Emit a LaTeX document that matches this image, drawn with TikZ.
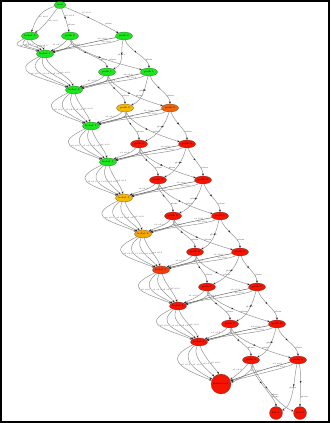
\documentclass[tikz,border=0pt]{standalone}
\usetikzlibrary{arrows.meta,shapes.geometric,decorations.markings}
\definecolor{gv}{RGB}{30,230,30}
\definecolor{gold}{RGB}{245,185,0}
\definecolor{goldb}{RGB}{245,165,0}
\definecolor{ora}{RGB}{240,100,10}
\definecolor{orr}{RGB}{240,60,10}
\definecolor{rd}{RGB}{245,20,0}
\begin{document}
\begin{tikzpicture}[x=1pt,y=-1pt,
  nd/.style={ellipse,draw=black!70,line width=0.2pt,minimum width=17pt,minimum height=8pt,inner sep=0pt,font=\fontsize{2.4}{3}\selectfont},
  cn/.style={circle,draw=black!70,line width=0.2pt,inner sep=0pt,font=\fontsize{2.4}{3}\selectfont},
  e/.style={draw=black!42,line width=0.5pt,-{Stealth[length=2.4pt,width=2pt,black!85]}},
  me/.style={e,decoration={markings,mark=at position 0.45 with {\arrow{Stealth[length=2.2pt,width=1.8pt,black!85]}}},postaction=decorate},
  lb/.style={font=\fontsize{2.1}{2.5}\selectfont,inner sep=0.6pt,text=black!80},
]
\useasboundingbox (0,0) rectangle (330,423);
\draw[line width=2pt] (1,1) rectangle (329,422);

% nodes
\node[nd,fill=gv,minimum width=12pt,minimum height=7pt] (root) at (60,5) {root};
\node[nd,fill=gv] (b0) at (30,36) {bobot 0};
\node[nd,fill=gv] (pA0) at (70,36) {path 0};
\node[nd,fill=gv] (pB0) at (124,36) {path 0};
\node[nd,fill=gv] (b1) at (45,54) {bobot 1};
\node[nd,fill=gv] (pA1) at (107,72) {path 1};
\node[nd,fill=gv] (pB1) at (149,72) {path 1};
\node[nd,fill=gv] (b2) at (74,90) {bobot 2};
\node[nd,fill=gold] (pA2) at (125,108) {path 2};
\node[nd,fill=ora] (pB2) at (170,108) {path 2};
\node[nd,fill=gv] (b3) at (91,126) {bobot 3};
\node[nd,fill=rd] (pA3) at (139,144) {path 3};
\node[nd,fill=rd] (pB3) at (187,144) {path 3};
\node[nd,fill=gv] (b4) at (108,162) {bobot 4};
\node[nd,fill=rd] (pA4) at (158,180) {path 4};
\node[nd,fill=rd] (pB4) at (203,180) {path 4};
\node[nd,fill=gold] (b5) at (124,198) {bobot 5};
\node[nd,fill=rd] (pA5) at (173,216) {path 5};
\node[nd,fill=rd] (pB5) at (220,216) {path 5};
\node[nd,fill=goldb] (b6) at (143,234) {bobot 6};
\node[nd,fill=rd] (pA6) at (195,252) {path 6};
\node[nd,fill=rd] (pB6) at (240,252) {path 6};
\node[nd,fill=orr] (b7) at (161,270) {bobot 7};
\node[nd,fill=rd] (pA7) at (207,287) {path 7};
\node[nd,fill=rd] (pB7) at (257,287) {path 7};
\node[nd,fill=rd] (b8) at (178,306) {bobot 8};
\node[nd,fill=rd] (pA8) at (230,324) {path 8};
\node[nd,fill=rd] (pB8) at (277,324) {path 8};
\node[nd,fill=rd] (b9) at (199,342) {bobot 9};
\node[nd,fill=rd] (pA9) at (251,360) {path 9};
\node[nd,fill=rd] (pB9) at (298,360) {path 9};
\node[cn,fill=rd,minimum size=20pt] (b10) at (221,384) {bobot end};
\node[cn,fill=rd,minimum size=13pt] (pA10) at (276,413) {bot 1};
\node[cn,fill=rd,minimum size=13pt] (pB10) at (300,413) {bot 2};

% root edges
\draw[e] (root) .. controls +(-22,6) and +(5,-14) .. node[lb,pos=0.5,right]{a1 v0.0} (b0);
\draw[e] (root) .. controls +(-8,10) and +(15,-10) .. node[lb,pos=0.5,right]{a2 v0.0} (b0);
\draw[me] (root) to[bend left=5] node[lb,pos=0.3,right]{a0 v0.0} node[lb,pos=0.72,right]{plans} (pA0);
\draw[me] (root) to[bend left=3] node[lb,pos=0.28,above right]{a1 v0.0} node[lb,pos=0.75,above right]{plans} (pB0);

% bobot chain
\foreach \k in {0,...,9}{
  \pgfmathtruncatemacro\n{\k+1}
  \pgfmathsetmacro\f{\k==0 ? 0.6 : 1}
  \pgfmathsetmacro\pa{\k==0 ? 0.35 : 0.5}
  \pgfmathsetmacro\pb{\k==0 ? 0.6 : 0.5}
  \draw[e] (b\k) .. controls +({-38*\f},{18*\f}) and +({-36*\f},{-14*\f}) .. node[lb,pos=0.5,right]{a0 v0.0} (b\n);
  \draw[e] (b\k) .. controls +({-22*\f},{18*\f}) and +({-22*\f},{-12*\f}) .. node[lb,pos=\pa,right]{a1 v0.0} (b\n);
  \draw[e] (b\k) .. controls +({-8*\f},{16*\f}) and +({-11*\f},{-12*\f}) .. node[lb,pos=\pb,right]{a2 v0.0} (b\n);
  \draw[e] (b\k) .. controls +({4*\f},{14*\f}) and +({-3*\f},{-12*\f}) .. node[lb,pos=0.5,right]{a3 v0.0} (b\n);
}

% path -> bobot
\foreach \k in {0,...,9}{
  \pgfmathtruncatemacro\n{\k+1}
  \draw[e] (pA\k) .. controls +(-8,10) and +(12,-6) .. node[lb,pos=0.3,left]{a1 v0.0} (b\n);
  \draw[e] (pA\k) .. controls +(4,10) and +(16,-3) .. node[lb,pos=0.3,right]{a2 v0.0} (b\n);
  \draw[e] (pB\k) .. controls +(-10,8) and +(20,-6) .. node[lb,pos=0.2,left]{a0 v0.0} (b\n);
  \draw[e,draw=black!60] (pB\k) to[bend right=2] node[lb,pos=0.2,above]{a3 v0.0} (b\n);
}

% plans edges
\foreach \k in {0,...,9}{
  \pgfmathtruncatemacro\n{\k+1}
  \draw[me] (pA\k) .. controls +(0,14) and +(0,-14) .. node[lb,pos=0.72,right]{plans} (pA\n);
  \draw[me] (pB\k) .. controls +(4,14) and +(0,-14) .. node[lb,pos=0.72,right]{plans} (pB\n);
  \draw[me] (pA\k) .. controls +(6,18) and +(-20,-6) .. node[lb,pos=0.6,above]{plans} (pB\n);
  \draw[me] (pB\k) .. controls +(-4,16) and +(18,-8) .. node[lb,pos=0.5,above]{plans} (pA\n);
}
\end{tikzpicture}
\end{document}
